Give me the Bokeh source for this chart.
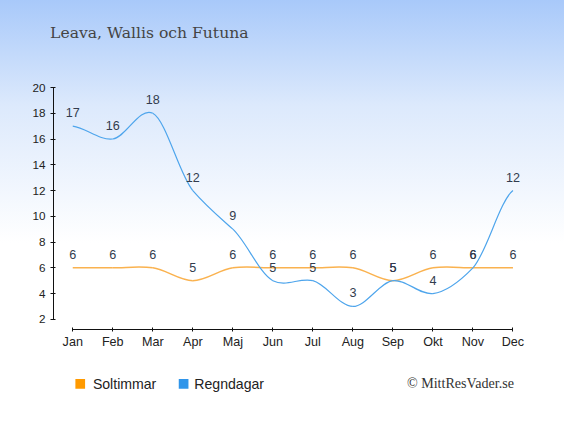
import numpy as np
from bokeh.plotting import figure
from bokeh.layouts import column
from bokeh.models import Range1d, FixedTicker, ColumnDataSource
from bokeh.embed import file_html
from bokeh.resources import INLINE
from bokeh.core.properties import value

# ---- data ----
months = ["Jan", "Feb", "Mar", "Apr", "Maj", "Jun", "Jul", "Aug", "Sep", "Okt", "Nov", "Dec"]
sun_hours = [6, 6, 6, 5, 6, 6, 6, 6, 5, 6, 6, 6]
rain_days = [17, 16, 18, 12, 9, 5, 5, 3, 5, 4, 6, 12]
y_ticks = [2, 4, 6, 8, 10, 12, 14, 16, 18, 20]
title_text = "Leava, Wallis och Futuna"
series_names = ["Soltimmar", "Regndagar"]
series_colors = ["#ff9a00", "#2f95ea"]
credit_text = "\u00a9 MittResVader.se"

# ---- geometry: the 580x435 design scaled to fit the page ----
W, H = 564, 419
SX, SY = W / 580.0, H / 435.0
def X(rx):
    return rx * SX
def Y(ry):
    return ry * SY
def fs(px):
    return "%.1fpx" % (px * SX)

HT = 67                 # title strip
HB = 58                 # legend strip
HM = H - HT - HB        # main chart

L = int(round(X(54.5)))
R = 522

def strip(h):
    f = figure(width=W, height=h, x_range=Range1d(L, R), y_range=Range1d(0, h),
               output_backend="svg", toolbar_location=None, x_axis_type=None, y_axis_type=None,
               min_border_left=L, min_border_right=W - R, min_border_top=0, min_border_bottom=0)
    f.border_fill_color = None
    f.background_fill_color = None
    f.outline_line_color = None
    f.grid.visible = False
    return f

# ---- title strip ----
pt = strip(HT)
pt.title.text = title_text
pt.title.align = "left"
pt.title.offset = X(51) - L
pt.title.standoff = 42
pt.title.text_font = "DejaVu Serif"
pt.title.text_font_size = fs(16)
pt.title.text_font_style = "normal"
pt.title.text_color = "#444444"

# ---- main chart ----
TOP = int(round(Y(90.7) - HT))
BOT = int(round(HT + HM - Y(341.3)))
x_jan, x_dec = X(74.3), X(527.0)
dxp = (x_dec - x_jan) / 11.0
x0 = -(x_jan - L) / dxp
x1 = 11 + (R - x_dec) / dxp
y_px20, y_px2 = Y(90.7), Y(331.0)
dyp = (y_px2 - y_px20) / 18.0
y0 = 2 - ((HT + HM - BOT) - y_px2) / dyp
y1 = 20.0

p = figure(width=W, height=HM, x_range=Range1d(x0, x1), y_range=Range1d(y0, y1),
           output_backend="svg", toolbar_location=None,
           min_border_left=L, min_border_top=TOP, min_border_right=W - R,
           min_border_bottom=BOT)
p.border_fill_color = None
p.background_fill_color = None
p.outline_line_color = None
p.grid.visible = False

p.xaxis.ticker = FixedTicker(ticks=list(range(len(months))))
p.xaxis.major_label_overrides = {i: m for i, m in enumerate(months)}
p.xaxis.bounds = (0, len(months) - 1)
p.yaxis.ticker = FixedTicker(ticks=y_ticks)
p.yaxis.bounds = (y_ticks[0], y_ticks[-1])
for ax in (p.xaxis[0], p.yaxis[0]):
    ax.axis_line_color = "#111111"
    ax.major_tick_line_color = "#111111"
    ax.minor_tick_line_color = None
    ax.major_label_text_color = "#222222"
    ax.major_label_text_font = "Liberation Sans"
p.xaxis.major_tick_in = 2
p.xaxis.major_tick_out = 2
p.xaxis.major_label_text_font_size = fs(13)
p.xaxis.major_label_standoff = 3
p.yaxis.major_tick_in = 2
p.yaxis.major_tick_out = 3
p.yaxis.major_label_text_font_size = fs(12)
p.yaxis.major_label_standoff = 5

def spline_source(vals, k=0.8):
    v = np.asarray(vals, dtype=float)
    n = len(v)
    xs = np.arange(n, dtype=float)
    m = np.zeros(n)
    m[1:-1] = k * (v[2:] - v[:-2]) / 2.0
    m[0] = k * (v[1] - v[0]) / 2.0
    m[-1] = k * (v[-1] - v[-2]) / 2.0
    return ColumnDataSource(dict(
        x0=xs[:-1], y0=v[:-1], x1=xs[1:], y1=v[1:],
        cx0=xs[:-1] + 1 / 3, cy0=v[:-1] + m[:-1] / 3,
        cx1=xs[1:] - 1 / 3, cy1=v[1:] - m[1:] / 3))

bz = dict(x0="x0", y0="y0", x1="x1", y1="y1", cx0="cx0", cy0="cy0", cx1="cx1", cy1="cy1")
p.bezier(source=spline_source(sun_hours), line_color="#f9a530", line_width=1.5, line_alpha=0.85, **bz)
p.bezier(source=spline_source(rain_days), line_color="#4ea5ec", line_width=1.2, **bz)

lab_color = "#323c4d"
for vals in (sun_hours, rain_days):
    src = ColumnDataSource(dict(x=list(range(len(months))), y=vals, t=[str(v) for v in vals]))
    p.text(x="x", y="y", text="t", source=src, y_offset=-13.5, text_align="center",
           text_baseline="middle", text_font=value("Liberation Sans"), text_font_size=fs(13),
           text_color=lab_color)

# ---- legend / credit strip (x in page pixels, frame aligned with the chart) ----
pb = strip(HB)
top_b = HT + HM
ly = HB - (Y(398) - top_b)
pb.scatter(x=[X(82), X(188.3)], y=[ly, ly], marker="square", size=9.7,
           color=series_colors, line_color=None)
pb.text(x=[X(95), X(199.3)], y=[ly, ly], text=series_names, text_font=value("Liberation Sans"),
        text_font_size=fs(14.5), text_color="#222222", text_baseline="middle", text_align="left")
pb.text(x=[X(528)], y=[HB - (Y(396.7) - top_b)], text=[credit_text],
        text_font=value("Liberation Serif"), text_font_size=fs(14.5), text_color="#333333",
        text_baseline="middle", text_align="right")

layout = column(pt, p, pb, spacing=0)
layout.styles = {"background": "linear-gradient(180deg, #a8c9fa 0%, #dce9fc 25%, #ffffff 58%, #ffffff 100%)"}

open("out.html", "w").write(file_html(layout, INLINE))
